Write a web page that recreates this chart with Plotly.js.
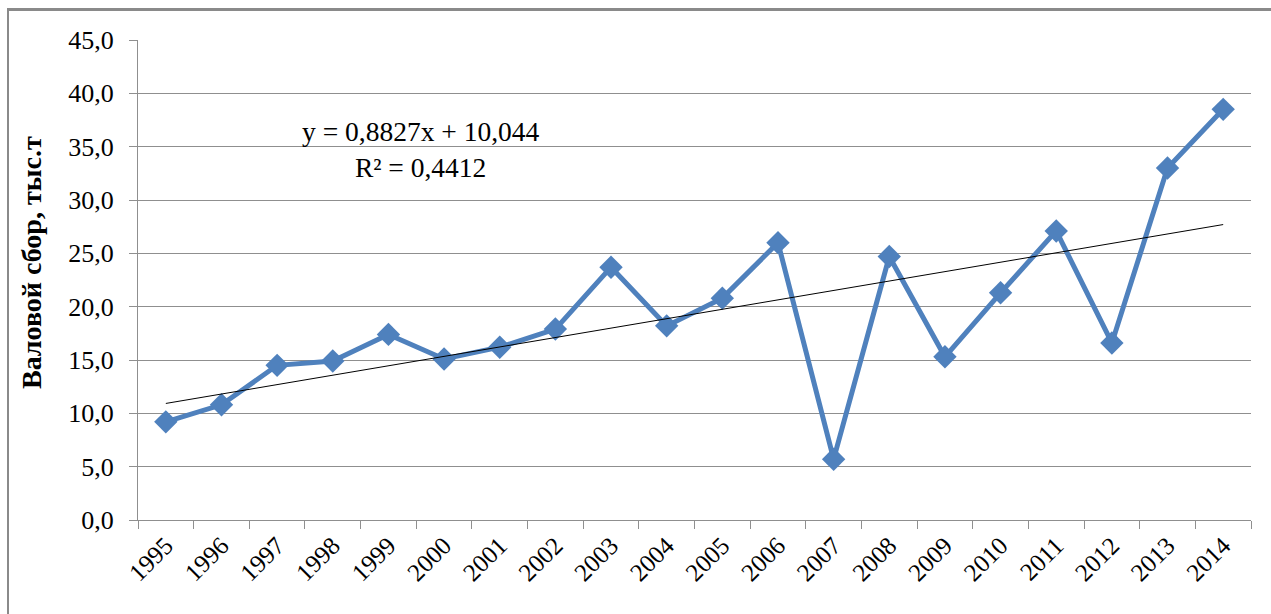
<!DOCTYPE html>
<html>
<head>
<meta charset="utf-8">
<script src="https://cdn.plot.ly/plotly-3.0.1.min.js"></script>
<style>
  html, body { margin: 0; padding: 0; background: #fff; }
  #wrap { position: relative; width: 1271px; height: 614px; overflow: hidden; }
  #chart { position: absolute; left: 0; top: 0; width: 1271px; height: 614px; }
  #frame { position: absolute; left: 7px; top: 8px; width: 1280px; height: 700px;
           border-left: 2px solid #8a8a8a; border-top: 3px solid #8a8a8a; pointer-events: none; }
</style>
</head>
<body>
<div id="wrap">
  <div id="chart"></div>
  <div id="frame"></div>
</div>
<script>
// ---- data ----
const years = ['1995','1996','1997','1998','1999','2000','2001','2002','2003','2004',
               '2005','2006','2007','2008','2009','2010','2011','2012','2013','2014'];
const harvest = [9.2, 10.8, 14.5, 14.9, 17.4, 15.1, 16.2, 17.9, 23.7, 18.2,
                 20.8, 26.0, 5.7, 24.7, 15.3, 21.3, 27.1, 16.6, 33.0, 38.5];
const trendSlope = 0.8827;
const trendIntercept = 10.044;
const trendR2 = 0.4412;
const yTitle = 'Валовой сбор, тыс.т';

// trend line values from the displayed regression equation (x = 1..n)
const trend = years.map((_, i) => trendSlope * (i + 1) + trendIntercept);

const fmt = (v, d) => v.toFixed(d).replace('.', ',');
const eqText = 'y = ' + fmt(trendSlope, 4) + 'x + ' + fmt(trendIntercept, 3) +
               '<br>R² = ' + fmt(trendR2, 4);

const serif = "'Liberation Serif', 'Times New Roman', serif";
const gridCol = '#8f8f8f';

const data = [
  {
    x: years, y: harvest, type: 'scatter', mode: 'lines+markers',
    line: { color: '#4F81BD', width: 5 },
    marker: { symbol: 'diamond', size: 18, color: '#4F81BD' },
    hoverinfo: 'x+y'
  },
  {
    x: years, y: trend, type: 'scatter', mode: 'lines',
    line: { color: '#000000', width: 1 },
    hoverinfo: 'skip'
  }
];

const layout = {
  width: 1271, height: 614,
  margin: { l: 138, r: 20, t: 40, b: 94 },
  paper_bgcolor: 'rgba(0,0,0,0)', plot_bgcolor: 'rgba(0,0,0,0)',
  showlegend: false,
  separators: ', ',
  font: { family: serif, color: '#000' },
  xaxis: {
    type: 'category', range: [-0.5, 19.5],
    showgrid: false, zeroline: false,
    showline: true, linecolor: gridCol, linewidth: 1,
    ticks: 'outside', tickson: 'boundaries', ticklen: 8, tickcolor: gridCol, tickwidth: 1,
    tickangle: -45, tickfont: { family: serif, size: 25, color: '#000' }
  },
  yaxis: {
    range: [0, 45], dtick: 5, tick0: 0, tickformat: '.1f',
    showgrid: true, gridcolor: gridCol, gridwidth: 1, zeroline: false,
    showline: true, linecolor: gridCol, linewidth: 1,
    ticks: 'outside', ticklen: 8, tickcolor: gridCol, tickwidth: 1,
    ticklabelstandoff: 10,
    tickfont: { family: serif, size: 26, color: '#000' }
  },
  annotations: [
    {
      xref: 'paper', yref: 'paper', x: 0.2543, y: 0.771,
      xanchor: 'center', yanchor: 'middle', showarrow: false, align: 'center',
      text: eqText, font: { family: serif, size: 27.5, color: '#000' }
    },
    {
      xref: 'paper', yref: 'paper', x: -0.0961, y: 0.5354,
      xanchor: 'center', yanchor: 'middle', showarrow: false, textangle: -90,
      text: '<b>' + yTitle + '</b>', font: { family: serif, size: 28, color: '#000' }
    }
  ]
};

Plotly.newPlot('chart', data, layout, { displayModeBar: false, staticPlot: true });
</script>
</body>
</html>
